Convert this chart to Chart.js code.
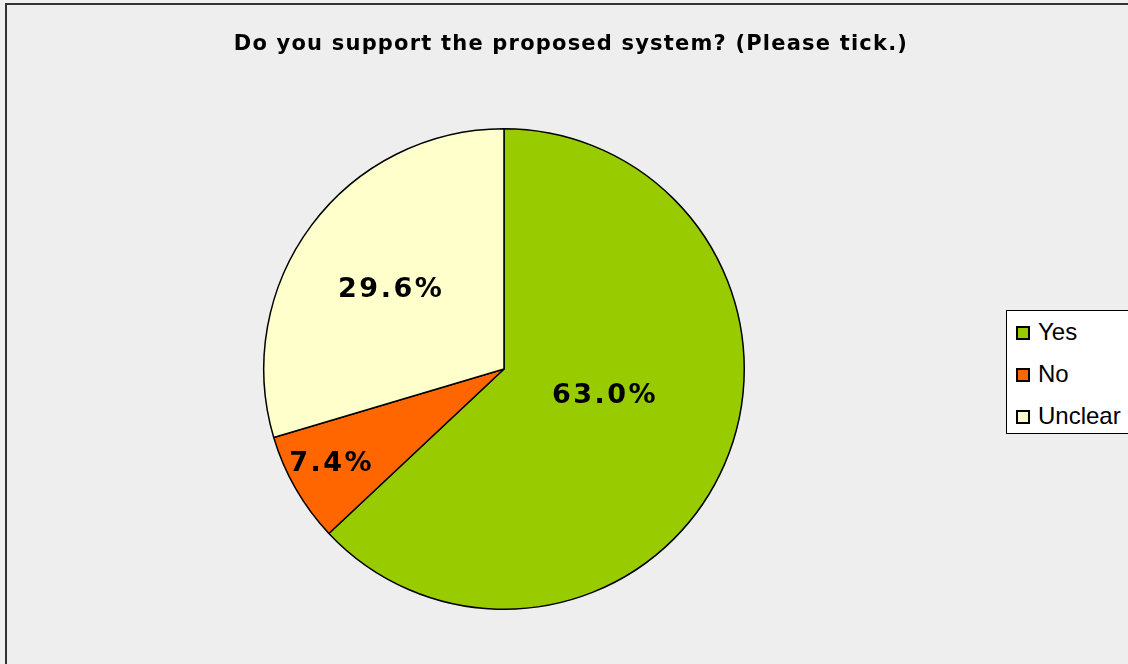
<!DOCTYPE html>
<html>
<head>
<meta charset="utf-8">
<script src="https://cdn.jsdelivr.net/npm/chart.js"></script>
<style>
  html, body { margin: 0; padding: 0; background: #f0f0f0; }
  #wrap { position: relative; width: 1128px; height: 664px; overflow: hidden; }
  #frame { position: absolute; left: 5px; top: 3px; width: 1200px; height: 800px;
           border: 2px solid #333; background: #eeeeee; box-sizing: border-box; }
  canvas { position: absolute; left: 0; top: 0; }
  #titulo { position: absolute; left: 0; width: 1142px; top: 31px; text-align: center;
            font: bold 21px "DejaVu Sans", Verdana, sans-serif; color: #000; letter-spacing: 1.2px; }
  #legenda { position: absolute; left: 1006px; top: 310px; width: 140px; height: 124px;
             border: 1px solid #000; background: #fff; box-sizing: border-box;
             font: 24px "Liberation Sans", Arial, sans-serif; }
  .item { position: absolute; left: 9px; height: 26px; line-height: 26px; white-space: nowrap; }
  .item span.cx { display: inline-block; width: 10px; height: 10px; border: 2px solid #000;
                  margin-right: 8px; vertical-align: 0px; }
</style>
</head>
<body>
<div id="wrap">
  <div id="frame"></div>
  <canvas id="graficoPizza" width="1128" height="664"></canvas>
  <div id="titulo">Do you support the proposed system? (Please tick.)</div>
  <div id="legenda"></div>
</div>
<script>
const categorias = ['Yes', 'No', 'Unclear'];
const percentuais = [63.0, 7.4, 29.6];
const cores = ['#99cc00', '#ff6600', '#ffffcc'];

// posicao do rotulo: fracao do raio e ajuste de angulo (graus)
const posRotulos = [
  { r: 0.43, da: -9 },
  { r: 0.82, da: 1.5 },
  { r: 0.58, da: -1.5 }
];

const rotulosPlugin = {
  id: 'rotulos',
  afterDatasetsDraw(chart) {
    const ctx = chart.ctx;
    const meta = chart.getDatasetMeta(0);
    ctx.save();
    ctx.font = 'bold 27px "DejaVu Sans", Verdana, sans-serif';
    ctx.letterSpacing = '2.5px';
    ctx.fillStyle = '#000';
    ctx.textAlign = 'center';
    ctx.textBaseline = 'middle';
    meta.data.forEach((arc, i) => {
      const p = posRotulos[i];
      const ang = (arc.startAngle + arc.endAngle) / 2 + p.da * Math.PI / 180;
      const r = arc.outerRadius * p.r;
      const x = arc.x + Math.cos(ang) * r;
      const y = arc.y + Math.sin(ang) * r;
      ctx.fillText(percentuais[i].toFixed(1) + '%', x + 1, y + 1);
    });
    ctx.restore();
  }
};

function criarLegenda() {
  const el = document.getElementById('legenda');
  categorias.forEach((c, i) => {
    const d = document.createElement('div');
    d.className = 'item';
    d.style.top = (8 + i * 42) + 'px';
    d.innerHTML = '<span class="cx" style="background:' + cores[i] + '"></span>' + c;
    el.appendChild(d);
  });
}

function criarGraficoPizza() {
  const ctx = document.getElementById('graficoPizza').getContext('2d');
  new Chart(ctx, {
    type: 'pie',
    data: {
      labels: categorias,
      datasets: [{
        data: percentuais,
        backgroundColor: cores,
        borderColor: '#000',
        borderWidth: 1.5
      }]
    },
    options: {
      responsive: false,
      animation: false,
      layout: { padding: { left: 263, right: 383, top: 128, bottom: 54 } },
      plugins: {
        legend: { display: false },
        title: { display: false },
        tooltip: { enabled: false }
      }
    },
    plugins: [rotulosPlugin]
  });
}

criarLegenda();
criarGraficoPizza();
</script>
</body>
</html>
